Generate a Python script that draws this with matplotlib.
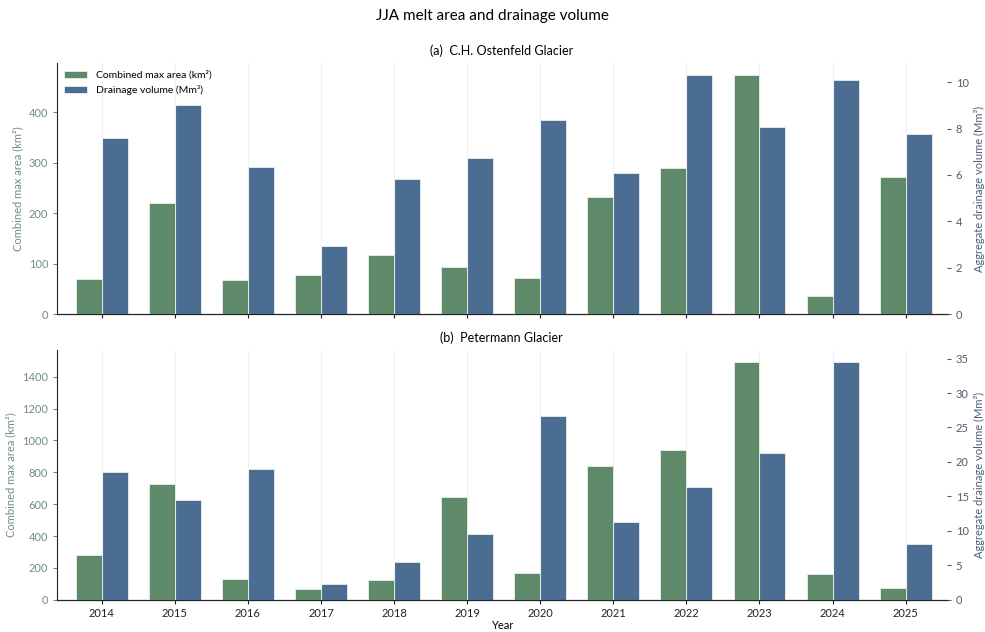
import numpy as np
import matplotlib.pyplot as plt

plt.rcParams['font.family'] = ['Lato', 'DejaVu Sans']

years = [2014, 2015, 2016, 2017, 2018, 2019, 2020, 2021, 2022, 2023, 2024, 2025]

# C.H. Ostenfeld Glacier
ost_area = [69, 219, 68, 78, 117, 93, 71, 231, 289, 473, 36, 271]      # km²
ost_volume = [7.6, 9.0, 6.35, 2.93, 5.82, 6.73, 8.35, 6.09, 10.3, 8.07, 10.1, 7.75]  # Mm³

# Petermann Glacier
pet_area = [280, 725, 130, 65, 125, 646, 169, 840, 938, 1492, 161, 73]
pet_volume = [18.6, 14.5, 18.97, 2.35, 5.55, 9.56, 26.6, 11.3, 16.3, 21.3, 34.5, 8.1]

GREEN = '#5f8a69'
BLUE = '#4a6d91'
AREA_TXT = '#6f8f7b'
VOL_TXT = '#4d5f73'

fig = plt.figure(figsize=(9.85, 6.32), dpi=100)
ax_top = fig.add_axes([0.058, 0.503, 0.903, 0.397])
ax_bot = fig.add_axes([0.058, 0.051, 0.903, 0.395], sharex=ax_top)

x = np.arange(len(years))
w = 0.355

panels = [
    (ax_top, ost_area, ost_volume, '(a)  C.H. Ostenfeld Glacier'),
    (ax_bot, pet_area, pet_volume, '(b)  Petermann Glacier'),
]

for ax, area, vol, title in panels:
    ax2 = ax.twinx()
    b1 = ax.bar(x - w / 2, area, w, color=GREEN, edgecolor='#e8efe9', linewidth=0.6,
                label='Combined max area (km²)', zorder=3)
    b2 = ax2.bar(x + w / 2, vol, w, color=BLUE, edgecolor='#e8efe9', linewidth=0.6,
                 label='Drainage volume (Mm³)', zorder=3)

    ax.set_xlim(-0.61, 11.56)
    ax.grid(axis='x', color='#f0f0f0', linewidth=0.8, zorder=0)
    ax.set_axisbelow(True)

    for s in ['top', 'right']:
        ax.spines[s].set_visible(False)
    for s in ['top', 'right', 'left']:
        ax2.spines[s].set_visible(False)
    ax.spines['left'].set_color('#222222')
    ax.spines['bottom'].set_color('#222222')

    ax.set_ylabel('Combined max area (km²)', color=AREA_TXT, fontsize=8)
    ax2.set_ylabel('Aggregate drainage volume (Mm³)', color=VOL_TXT, fontsize=8)
    ax.tick_params(axis='y', colors=AREA_TXT, labelsize=8, length=3)
    ax2.tick_params(axis='y', colors=VOL_TXT, labelsize=8, length=3)
    ax.tick_params(axis='x', colors='#222222', labelsize=8, length=3, pad=3)
    for lbl in ax.get_xticklabels():
        lbl.set_color('#222222')

    ax.set_title(title, fontsize=9, pad=6)

    # put the left axis above the twin so its grid sits behind both bar sets
    ax.set_zorder(ax2.get_zorder() + 1)
    ax.patch.set_visible(False)

    if ax is ax_top:
        ax.legend([b1, b2], [b1.get_label(), b2.get_label()], loc='upper left',
                  frameon=False, fontsize=7.5, handlelength=2.2, borderaxespad=0.3)

ax_bot.set_xticks(x)
ax_bot.set_xticklabels([str(y) for y in years])
plt.setp(ax_top.get_xticklabels(), visible=False)
ax_bot.set_xlabel('Year', fontsize=8, labelpad=1)

fig.suptitle('JJA melt area and drainage volume', fontsize=11, y=0.985)

fig.savefig('out.png', dpi=100)
